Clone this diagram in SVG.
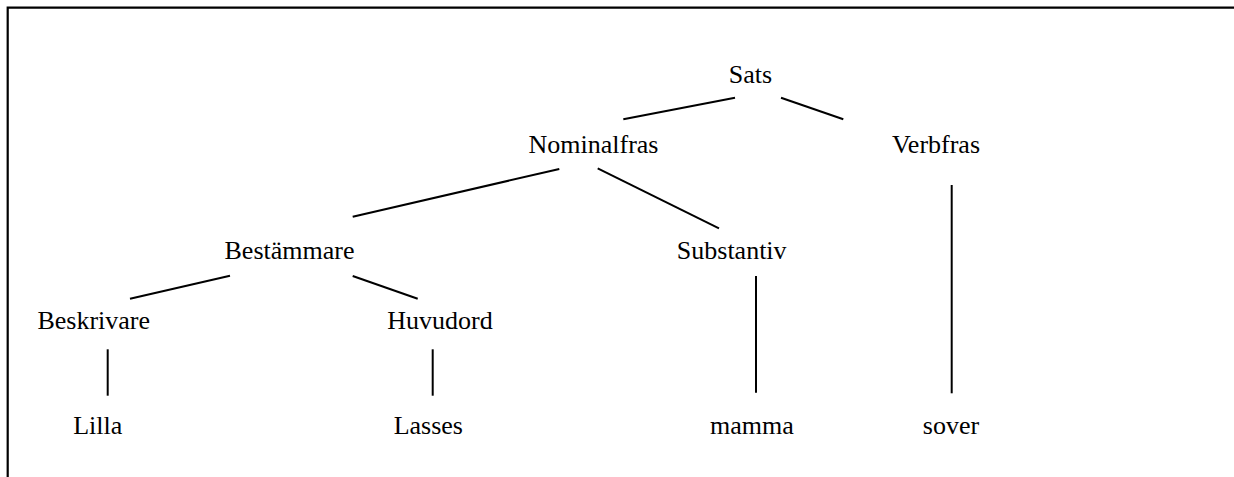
<svg xmlns="http://www.w3.org/2000/svg" width="1234" height="477" viewBox="0 0 1234 477">
<style>
.t{font-family:"Liberation Serif","Times New Roman",serif;font-size:26px;fill:#000;text-anchor:middle}
.c line{stroke:#000;stroke-width:2}
.b{stroke:#000;stroke-width:2.2;fill:none}
</style>
<rect width="1234" height="477" fill="#fff"/>
<path class="b" d="M7.7,477 V7.7 H1234"/>
<g class="c" id="connectors">
<line x1="623.3" y1="119.3" x2="735" y2="97.7"/>
<line x1="781" y1="97.7" x2="843.3" y2="119.3"/>
<line x1="352.7" y1="216.7" x2="559.3" y2="169"/>
<line x1="597.7" y1="168.3" x2="719" y2="228.3"/>
<line x1="130" y1="298.7" x2="230" y2="275.7"/>
<line x1="352.7" y1="276" x2="417.7" y2="298.7"/>
<line x1="107.7" y1="349.3" x2="107.7" y2="395.7"/>
<line x1="432.7" y1="349.3" x2="432.7" y2="395.7"/>
<line x1="756" y1="276" x2="756" y2="392.7"/>
<line x1="951.7" y1="185" x2="951.7" y2="393.3"/>
</g>
<g id="sats"><text class="t" x="750.5" y="83.3">Sats</text></g>
<g id="nominalfras"><text class="t" x="593.5" y="152.7">Nominalfras</text></g>
<g id="verbfras"><text class="t" x="936" y="153">Verbfras</text></g>
<g id="bestammare"><text class="t" x="289.5" y="259.3">Bestämmare</text></g>
<g id="substantiv"><text class="t" x="731.7" y="259.3">Substantiv</text></g>
<g id="beskrivare"><text class="t" x="93.7" y="329">Beskrivare</text></g>
<g id="huvudord"><text class="t" x="440" y="329">Huvudord</text></g>
<g id="lilla"><text class="t" x="97.7" y="434">Lilla</text></g>
<g id="lasses"><text class="t" x="428.3" y="434">Lasses</text></g>
<g id="mamma"><text class="t" x="752" y="434">mamma</text></g>
<g id="sover"><text class="t" x="951" y="434.3">sover</text></g>
</svg>
